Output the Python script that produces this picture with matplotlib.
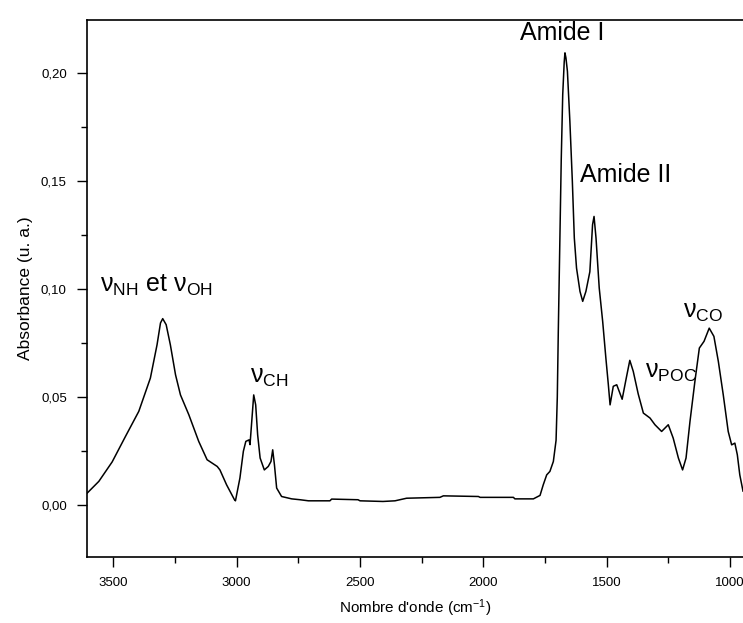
import matplotlib
matplotlib.use("Agg")
import matplotlib.pyplot as plt
from matplotlib.ticker import MultipleLocator, FuncFormatter

# Spectre IR (nombre d'onde en cm-1, absorbance en u.a.)
wavenumber = [
    3606, 3559, 3505, 3451, 3397, 3350, 3323, 3309, 3300, 3286,
    3269, 3248, 3228, 3194, 3154, 3120, 3079, 3068, 3041, 3009,
    3005, 2987, 2973, 2963, 2950, 2946, 2939, 2931, 2923, 2915,
    2905, 2888, 2872, 2861, 2854, 2847, 2838, 2818, 2777, 2743,
    2709, 2622, 2615, 2508, 2500, 2407, 2358, 2311, 2176, 2162,
    2020, 2013, 1878, 1872, 1797, 1770, 1757, 1743, 1730, 1716,
    1705, 1700, 1696, 1690, 1684, 1678, 1672, 1669, 1665, 1659,
    1649, 1639, 1631, 1622, 1608, 1597, 1584, 1568, 1557, 1551,
    1543, 1530, 1516, 1503, 1493, 1486, 1473, 1459, 1437, 1420,
    1406, 1392, 1372, 1351, 1324, 1304, 1277, 1250, 1230, 1209,
    1192, 1178, 1162, 1142, 1124, 1105, 1084, 1065, 1047, 1027,
    1007, 993, 980, 970, 960, 947,
]
absorbance = [
    0.0056, 0.0110, 0.0200, 0.0318, 0.0434, 0.0588, 0.0742, 0.0843, 0.0863, 0.0835,
    0.0742, 0.0603, 0.0510, 0.0418, 0.0295, 0.0210, 0.0179, 0.0163, 0.0094, 0.0025,
    0.0020, 0.0125, 0.0249, 0.0295, 0.0302, 0.0280, 0.0387, 0.0510, 0.0464, 0.0325,
    0.0218, 0.0163, 0.0179, 0.0202, 0.0256, 0.0187, 0.0079, 0.0040, 0.0029, 0.0025,
    0.0020, 0.0020, 0.0028, 0.0025, 0.0020, 0.0017, 0.0020, 0.0032, 0.0036, 0.0043,
    0.0040, 0.0036, 0.0036, 0.0029, 0.0029, 0.0045, 0.0094, 0.0140, 0.0156, 0.0202,
    0.0300, 0.0500, 0.0800, 0.1200, 0.1600, 0.1900, 0.2050, 0.2093, 0.2070, 0.2008,
    0.1776, 0.1499, 0.1236, 0.1097, 0.0989, 0.0943, 0.0989, 0.1080, 0.1298, 0.1336,
    0.1236, 0.1005, 0.0850, 0.0680, 0.0557, 0.0464, 0.0550, 0.0557, 0.0490, 0.0590,
    0.0670, 0.0619, 0.0515, 0.0426, 0.0403, 0.0372, 0.0341, 0.0372, 0.0310, 0.0218,
    0.0163, 0.0218, 0.0387, 0.0573, 0.0727, 0.0758, 0.0819, 0.0781, 0.0665, 0.0510,
    0.0341, 0.0279, 0.0287, 0.0233, 0.0140, 0.0065,
]

# Attribution des bandes: (texte, nombre d'onde, absorbance)
band_labels = ["$ν_{NH}$ et $ν_{OH}$", "Amide I", "Amide II",
               "$ν_{CH}$", "$ν_{POC}$", "$ν_{CO}$"]
band_x = [3556, 1851, 1608, 2946, 1345, 1191]
band_y = [0.0986, 0.2153, 0.1495, 0.0565, 0.0588, 0.0866]


def main():
    plt.rcParams['font.family'] = ['Liberation Sans', 'DejaVu Sans']
    plt.rcParams['mathtext.default'] = 'regular'
    plot_spectrum()


def comma_fmt(v, pos):
    ''' virgule comme séparateur décimal '''
    return f"{v:.2f}".replace(".", ",")


def plot_spectrum():
    fig = plt.figure(figsize=(7.43, 6.23), dpi=100)
    ax = fig.add_axes([87 / 743, 1 - 557 / 623, 656 / 743, 537 / 623])

    ax.plot(wavenumber, absorbance, color="black", lw=1.1)

    ax.set_xlim(3607, 947)
    ax.set_ylim(-0.024, 0.2245)

    ax.xaxis.set_major_locator(MultipleLocator(500))
    ax.xaxis.set_minor_locator(MultipleLocator(250))
    ax.yaxis.set_major_locator(MultipleLocator(0.05))
    ax.yaxis.set_minor_locator(MultipleLocator(0.025))
    ax.yaxis.set_major_formatter(FuncFormatter(comma_fmt))

    ax.tick_params(which="major", direction="out", length=7.5, width=1.0,
                   pad=7, labelsize=9.5, top=False, right=False)
    ax.tick_params(which="minor", direction="out", length=4, width=1.0,
                   top=False, right=False)

    ax.spines["right"].set_visible(False)
    for s in ("left", "bottom", "top"):
        ax.spines[s].set_linewidth(1.2)

    ax.set_xlabel("Nombre d'onde (cm$^{-1}$)", fontsize=11, labelpad=6)
    ax.set_ylabel("Absorbance (u. a.)", fontsize=12.5, labelpad=6)

    for txt, x, y in zip(band_labels, band_x, band_y):
        ax.text(x, y, txt, fontsize=18, ha="left", va="baseline")

    fig.savefig("out.png", dpi=100)


if __name__ == "__main__":
    main()
